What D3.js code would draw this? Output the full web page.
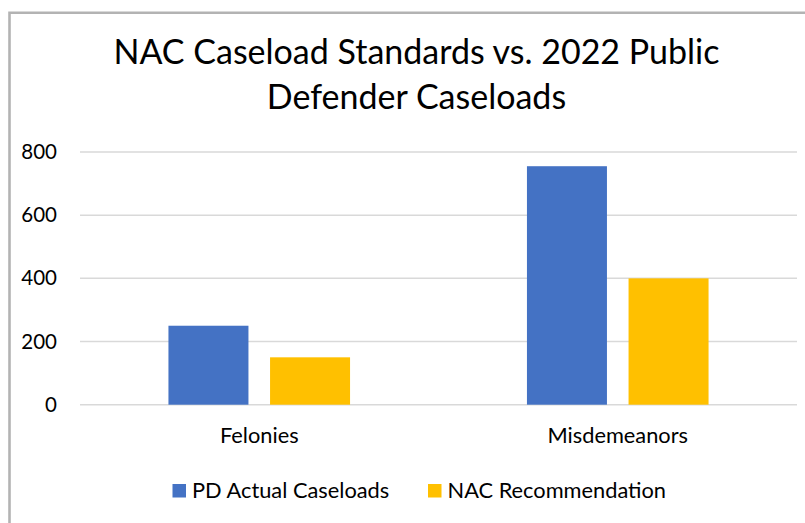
<!DOCTYPE html>
<html>
<head>
<meta charset="utf-8">
<script src="https://cdn.jsdelivr.net/npm/d3@7"></script>
<style>
  html, body { margin: 0; padding: 0; background: #fff; }
  svg { display: block; font-family: Lato, "Open Sans", sans-serif; }
</style>
</head>
<body>
<svg id="chart" width="805" height="523"></svg>
<script>
const categories = ["Felonies", "Misdemeanors"];
const seriesNames = ["PD Actual Caseloads", "NAC Recommendation"];
const pdActual = [250, 755];
const nacRecommendation = [150, 400];
const yTicks = [0, 200, 400, 600, 800];
const titleLines = ["NAC Caseload Standards vs. 2022 Public", "Defender Caseloads"];
const colors = ["#4472C4", "#FFC000"];

const seriesValues = [pdActual, nacRecommendation];

const svg = d3.select("#chart");
const W = 805, H = 523;
const plot = { left: 80, right: 797, top: 152, bottom: 404.7 };

// border
svg.append("path")
  .attr("d", `M9.5,${H} L9.5,12.8 L${W},12.8`)
  .attr("fill", "none").attr("stroke", "#b3b3b3").attr("stroke-width", 2.6);

// title
const title = svg.append("g").attr("fill", "#000");
titleLines.forEach((t, i) => {
  title.append("text")
    .attr("x", 416.5).attr("y", 64 + i * 45)
    .attr("text-anchor", "middle")
    .attr("font-size", 34)
    .text(t);
});

const y = d3.scaleLinear().domain([0, 800]).range([plot.bottom, plot.top]);
const x0 = d3.scaleBand().domain(categories).range([plot.left, plot.right]);
const groupW = 181.6;
const x1 = d3.scaleBand().domain(seriesNames).range([0, groupW]).paddingInner(0.2126);

// gridlines
svg.append("g").selectAll("line").data(yTicks).join("line")
  .attr("x1", plot.left).attr("x2", plot.right)
  .attr("y1", d => y(d)).attr("y2", d => y(d))
  .attr("stroke", "#d9d9d9").attr("stroke-width", 1.5);

// y axis labels
const yAxis = d3.axisLeft(y).tickValues(yTicks).tickSize(0).tickPadding(0).tickFormat(d3.format("d"));
const yg = svg.append("g").attr("transform", "translate(57,0)").call(yAxis);
yg.select(".domain").remove();
yg.selectAll("text").attr("font-size", 20.5).attr("fill", "#000").attr("font-family", "Lato, sans-serif");

// bars
const groups = svg.append("g").selectAll("g").data(categories).join("g")
  .attr("transform", c => `translate(${x0(c) + x0.bandwidth() / 2 - groupW / 2},0)`);
groups.selectAll("rect")
  .data((c, ci) => seriesNames.map((s, si) => ({ s, si, v: seriesValues[si][ci] })))
  .join("rect")
  .attr("x", d => x1(d.s))
  .attr("width", x1.bandwidth())
  .attr("y", d => y(d.v))
  .attr("height", d => y(0) - y(d.v))
  .attr("fill", d => colors[d.si]);

// x axis labels
const xAxis = d3.axisBottom(x0).tickSize(0).tickPadding(0);
const xg = svg.append("g").attr("transform", `translate(0,${427.5})`).call(xAxis);
xg.select(".domain").remove();
xg.selectAll("text").attr("font-size", 21.8).attr("fill", "#000").attr("font-family", "Lato, sans-serif");

// legend
const legendX = [172.5, 428];
const leg = svg.append("g").selectAll("g").data(seriesNames).join("g")
  .attr("transform", (d, i) => `translate(${legendX[i]},484)`);
leg.append("rect").attr("width", 13.5).attr("height", 13.5).attr("fill", (d, i) => colors[i]);
leg.append("text").attr("x", 19.5).attr("y", 13.8).attr("font-size", 21.8).attr("fill", "#000").text(d => d);
</script>
</body>
</html>
